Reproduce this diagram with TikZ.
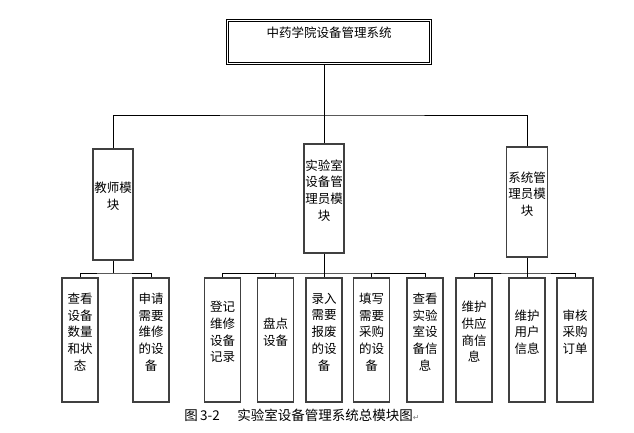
\documentclass[tikz,border=0pt]{standalone}
\usepackage{fontspec}
\setmainfont{Noto Sans CJK SC}
\newfontfamily\markfont{DejaVu Sans}

\begin{document}
\begin{tikzpicture}[x=1pt,y=-1pt,semithick,
    font=\fontsize{12.5}{16.7}\selectfont,
    box/.style={draw=black!75,line width=1.2pt,minimum width=40pt,inner sep=0pt},
    leaf/.style={box,minimum width=36pt,minimum height=124pt},
    txt/.style={align=center,inner sep=0pt,yshift=8pt}]
    \useasboundingbox (0,0) rectangle (634,432);
    % top of the tree
    \node [draw,double,line width=0.8pt,double distance=1.5pt,minimum width=203pt,minimum height=43pt,
        label={[inner sep=0pt,yshift=9pt]center:中药学院设备管理系统}] (root) at (329,42) {};
    \node [box,minimum height=111pt,label={[txt]center:{教师模\\块}}] (teacher) at (113,204.5) {};
    \node [box,minimum height=109pt,label={[txt]center:{实验室\\设备管\\理员模\\块}}] (lab) at (324,198.5) {};
    \node [box,minimum width=41pt,minimum height=110pt,label={[txt]center:{系统管\\理员模\\块}}] (admin) at (527,202) {};
    % leaves
    \foreach \nm/\x/\t in {t1/80/{查看\\设备\\数量\\和状\\态},
                           t2/151/{申请\\需要\\维修\\的设\\备},
                           l1/222.5/{登记\\维修\\设备\\记录},
                           l2/275.5/{盘点\\设备},
                           l3/324/{录入\\需要\\报废\\的设\\备},
                           l4/371.5/{填写\\需要\\采购\\的设\\备},
                           l5/425/{查看\\实验\\室设\\备信\\息},
                           a1/474/{维护\\供应\\商信\\息},
                           a2/527/{维护\\用户\\信息},
                           a3/575/{审核\\采购\\订单}}
        \node [leaf,label={[txt]center:\t}] (\nm) at (\x,340) {};
    % connectors
    \coordinate (bus) at (324,115);
    \draw (root.south -| bus) -- (bus);
    \draw (teacher.north) |- (bus) -| (admin.north);
    \draw (bus) -- (lab.north);
    \coordinate (tbus) at (113,273);
    \draw (teacher.south) -- (tbus);
    \draw (t1.north) |- (tbus) -| (t2.north);
    \coordinate (lbus) at (324,273);
    \draw (lab.south) -- (lbus);
    \draw (l1.north) |- (lbus) -| (l5.north);
    \foreach \nm in {l2,l3,l4}
        \draw (\nm.north) -- (\nm.north |- lbus);
    \coordinate (abus) at (527,273);
    \draw (admin.south) -- (abus);
    \draw (a1.north) |- (abus) -| (a3.north);
    \draw (a2.north) -- (abus);
    % caption
    \node [font=\fontsize{13.5}{16}\selectfont] (caption) at (302,415)
        {图\,3-2\hspace{1.3em}实验室设备管理系统总模块图{\markfont\fontsize{8}{8}\selectfont\color{gray}↵}};
\end{tikzpicture}
\end{document}
